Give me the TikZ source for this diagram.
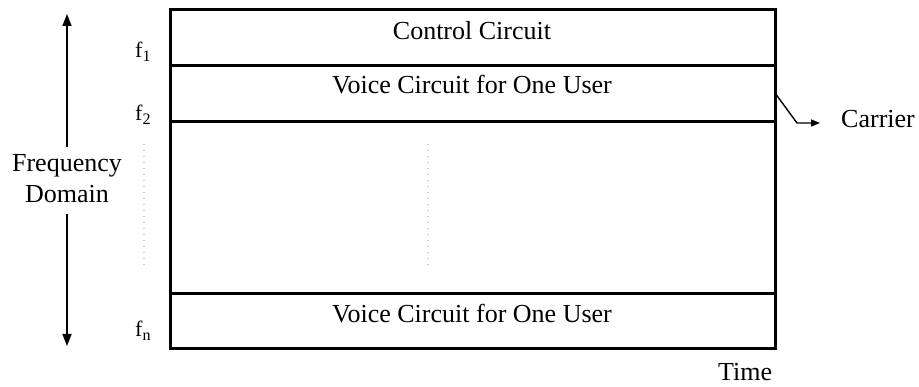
\documentclass[tikz,border=0pt]{standalone}
\usepackage{fontspec}
\setmainfont{Liberation Serif}
\usetikzlibrary{arrows.meta}
\tikzset{
  bandline/.style={line width=3pt},
  axisarrow/.style={line width=1.4pt,-{Triangle[length=12pt,width=9pt]}},
  carrierarrow/.style={line width=1.4pt,-{Triangle[length=9pt,width=7pt]}},
  gap/.style={draw=gray!40,line width=1.2pt,dash pattern=on 1pt off 5pt},
  label/.style={inner sep=0pt,font=\fontsize{26}{31}\selectfont},
  freq/.style={inner sep=0pt,anchor=base west,font=\fontsize{22}{26}\selectfont},
}
\newcommand{\fsub}[1]{f\raisebox{-4pt}{\fontsize{16}{16}\selectfont #1}}
\begin{document}
\begin{tikzpicture}[x=1pt,y=-1pt]
\useasboundingbox (0,0) rectangle (919,387);

% frequency bands
\draw[bandline] (170,10) rectangle (775,349);
\draw[bandline] (170,66) -- (775,66);
\draw[bandline] (170,122) -- (775,122);
\draw[bandline] (170,294) -- (775,294);

\node[label,anchor=base] (ctrl) at (472,40) {Control Circuit};
\node[label,anchor=base] (voiceA) at (472,94) {Voice Circuit for One User};
\node[label,anchor=base] (voiceB) at (472,323) {Voice Circuit for One User};

% omitted bands
\draw[gap] (144,144) -- (144,266);
\draw[gap] (428,144) -- (428,266);

% frequency labels
\node[freq] (f1) at (135,58) {\fsub{1}};
\node[freq] (f2) at (135,121) {\fsub{2}};
\node[freq] (fn) at (135,337) {\fsub{n}};

% frequency axis
\node[label,anchor=base] (freqA) at (67,172) {Frequency};
\node[label,anchor=base] (freqB) at (67,203) {Domain};
\coordinate (axtop) at (67,14);
\coordinate (axbot) at (67,346);
\coordinate (axup) at (67,147);
\coordinate (axdown) at (67,214);
\draw[axisarrow] (axup) -- (axtop);
\draw[axisarrow] (axdown) -- (axbot);

% carrier pointer
\node[label,anchor=base west] (carrier) at (841,128) {Carrier};
\coordinate (cstart) at (775,93);
\coordinate (cbend) at (797,123);
\draw[carrierarrow] (cstart) -- (cbend) -- ([xshift=-21pt]carrier.west |- cbend);

% time label
\node[label,anchor=base west] (time) at (718,381) {Time};
\end{tikzpicture}
\end{document}
